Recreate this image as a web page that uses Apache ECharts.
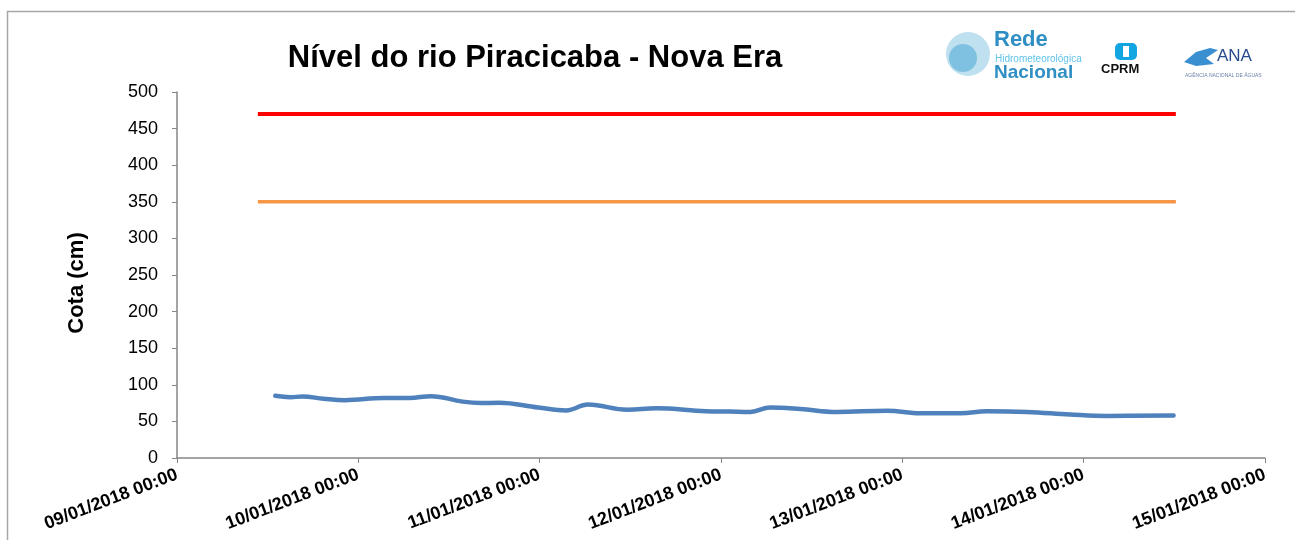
<!DOCTYPE html>
<html>
<head>
<meta charset="utf-8">
<script src="https://cdn.jsdelivr.net/npm/echarts@6/dist/echarts.min.js"></script>
<style>
  html, body { margin: 0; padding: 0; background: #fff; }
  #chart { width: 1295px; height: 540px; }
</style>
</head>
<body>
<div id="chart"></div>
<script>
const chart = echarts.init(document.getElementById('chart'));

// x axis is hours counted from 09/01/2018 00:00
const dayLabels = ['09/01/2018 00:00', '10/01/2018 00:00', '11/01/2018 00:00', '12/01/2018 00:00',
	'13/01/2018 00:00', '14/01/2018 00:00', '15/01/2018 00:00'];

const levelHours = [13, 15, 16.6, 19.4, 22.2, 27.4, 30.8, 33.6, 37.8, 40.2, 42.6, 47.8, 51.5, 54.4,
	59.6, 63.4, 70, 73.1, 75.9, 78.5, 82.5, 87.3, 94, 98.4, 103.7, 107.2, 112.5, 118.2, 123.1, 131.9];
const levelValues = [85, 83, 84, 81, 79, 82, 82, 84.5, 77, 75, 75.5, 69, 65, 73,
	66, 68, 64, 63.5, 63, 69, 67, 63, 64.5, 61, 61, 64, 63, 59.5, 57.5, 58];

// reference lines (alert / attention quotas)
const refHours = [10.7, 132.2];
const alertLevel = [470, 470];
const attentionLevel = [350, 350];

function pairs(xs, ys) {
	return xs.map((x, i) => [x, ys[i]]);
}

const labelFont = 'Liberation Sans, Arial, sans-serif';

const option = {
	animation: false,
	grid: { left: 177, right: 30, top: 92, bottom: 82 },
	xAxis: {
		type: 'value',
		min: 0,
		max: 144,
		interval: 24,
		axisLine: { lineStyle: { color: '#868686', width: 1.5 } },
		axisTick: { show: true, length: 5, lineStyle: { color: '#868686' } },
		splitLine: { show: false },
		axisLabel: {
			rotate: 21,
			margin: 16,
			color: '#000',
			fontFamily: labelFont,
			fontWeight: 'bold',
			fontSize: 18,
			formatter: v => dayLabels[Math.round(v / 24)]
		}
	},
	yAxis: {
		type: 'value',
		min: 0,
		max: 500,
		interval: 50,
		name: 'Cota (cm)',
		nameLocation: 'middle',
		nameGap: 89,
		nameTextStyle: { color: '#000', fontFamily: labelFont, fontWeight: 'bold', fontSize: 22, padding: [0, 16, 0, 0] },
		axisLine: { show: true, lineStyle: { color: '#868686', width: 1.5 } },
		axisTick: { show: true, length: 5, lineStyle: { color: '#868686' } },
		splitLine: { show: false },
		axisLabel: { color: '#000', fontFamily: labelFont, fontSize: 18, margin: 19 }
	},
	title: {
		text: 'Nível do rio Piracicaba - Nova Era',
		left: 530,
		textAlign: 'center',
		top: 38,
		textStyle: { color: '#000', fontFamily: labelFont, fontWeight: 'bold', fontSize: 31 }
	},
	graphic: [
		{ type: 'rect', shape: { x: 7.5, y: 11.5, width: 1400, height: 600 },
			style: { fill: 'none', stroke: '#a6a6a6', lineWidth: 1.5 }, silent: true },
		// logos approximated with shapes and text
		{ type: 'circle', shape: { cx: 968, cy: 54, r: 22 }, style: { fill: '#bfe0ef' } },
		{ type: 'circle', shape: { cx: 963, cy: 58, r: 14 }, style: { fill: '#7fc1e0' } },
		{ type: 'text', left: 994, top: 29, style: { text: 'Rede', fill: '#2f8fc4', font: 'bold 22px ' + labelFont } },
		{ type: 'text', left: 995, top: 54, style: { text: 'Hidrometeorológica', fill: '#5fc3ea', font: '10px ' + labelFont } },
		{ type: 'text', left: 994, top: 63, style: { text: 'Nacional', fill: '#2f8fc4', font: 'bold 19px ' + labelFont } },
		{ type: 'rect', shape: { x: 1115, y: 43, width: 22, height: 17, r: 5 }, style: { fill: '#13a4e2' } },
		{ type: 'rect', shape: { x: 1123, y: 46, width: 6, height: 11 }, style: { fill: '#fff' } },
		{ type: 'text', left: 1101, top: 63, style: { text: 'CPRM', fill: '#111', font: 'bold 13px ' + labelFont } },
		{ type: 'polygon', shape: { points: [[1184, 62], [1196, 52], [1210, 48], [1218, 50], [1206, 58], [1214, 64], [1196, 66]] },
			style: { fill: '#3a8fd0' } },
		{ type: 'text', left: 1217, top: 48, style: { text: 'ANA', fill: '#274a8c', font: '17px ' + labelFont } },
		{ type: 'text', left: 1185, top: 73, style: { text: 'AGÊNCIA NACIONAL DE ÁGUAS', fill: '#6a7fa8', font: '5px ' + labelFont } }
	],
	series: [
		{
			type: 'line',
			data: pairs(refHours, alertLevel),
			symbol: 'none',
			lineStyle: { color: '#ff0000', width: 4 }
		},
		{
			type: 'line',
			data: pairs(refHours, attentionLevel),
			symbol: 'none',
			lineStyle: { color: '#f79646', width: 3.5 }
		},
		{
			type: 'line',
			data: pairs(levelHours, levelValues),
			symbol: 'none',
			smooth: 0.4,
			lineStyle: { color: '#4f81bd', width: 4.5, cap: 'round' }
		}
	]
};

chart.setOption(option);

window.addEventListener('resize', () => {
	chart.resize();
});
</script>
</body>
</html>
